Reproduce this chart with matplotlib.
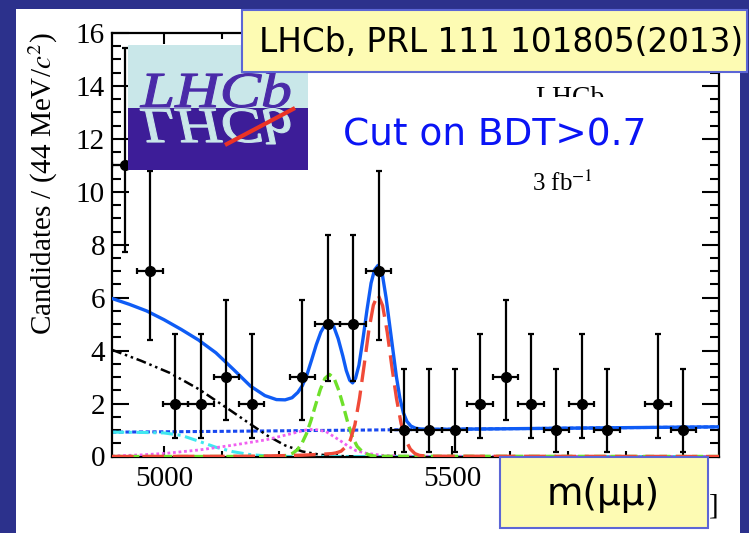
import matplotlib.pyplot as plt
from matplotlib.patches import Rectangle, PathPatch
from matplotlib.textpath import TextPath
from matplotlib.font_manager import FontProperties
from matplotlib.transforms import Affine2D

##############################
# Données
##############################

# centres des bins (44 MeV) et nombre de candidats (bins vides non tracés)
masses = [4932, 4976, 5020, 5064, 5108, 5152, 5240, 5284, 5328, 5372, 5416,
          5460, 5504, 5548, 5592, 5636, 5680, 5724, 5768, 5856, 5900]
candidats = [11, 7, 2, 2, 3, 2, 3, 5, 5, 7, 1, 1, 1, 2, 3, 2, 1, 2, 1, 2, 1]
# bornes des barres d'erreur (Poisson)
bas = [7.73, 4.42, 0.71, 0.71, 1.37, 0.71, 1.37, 2.84, 2.84, 4.42, 0.17,
       0.17, 0.17, 0.71, 1.37, 0.71, 0.17, 0.71, 0.17, 0.71, 0.17]
haut = [15.42, 10.77, 4.64, 4.64, 5.92, 4.64, 5.92, 8.38, 8.38, 10.77, 3.30,
        3.30, 3.30, 4.64, 5.92, 4.64, 3.30, 4.64, 3.30, 4.64, 3.30]
demi_bin = 22

# fit total
fit_x = [4910, 4940, 4970, 5000, 5030, 5060, 5090, 5120, 5150, 5175, 5195,
         5210, 5222, 5232, 5240, 5248, 5256, 5264, 5272, 5280, 5287, 5294,
         5302, 5310, 5316, 5322, 5327, 5332, 5338, 5345, 5352, 5359, 5365,
         5371, 5378, 5385, 5391, 5397, 5403, 5409, 5415, 5421, 5428, 5436,
         5445, 5460, 5500, 5600, 5700, 5800, 5900, 5966]
fit_y = [5.97, 5.75, 5.50, 5.17, 4.80, 4.40, 3.92, 3.30, 2.66, 2.30, 2.15,
         2.14, 2.22, 2.42, 2.68, 3.10, 3.65, 4.22, 4.70, 5.00, 5.07, 4.93,
         4.45, 3.80, 3.25, 2.88, 2.78, 2.95, 3.45, 4.45, 5.55, 6.55, 7.05,
         7.22, 6.95, 6.00, 5.00, 4.00, 3.00, 2.20, 1.65, 1.33, 1.15, 1.07,
         1.04, 1.03, 1.03, 1.05, 1.07, 1.09, 1.11, 1.12]

# bruit de fond combinatoire
comb_x = [4910, 5100, 5300, 5500, 5700, 5966]
comb_y = [0.92, 0.95, 0.99, 1.03, 1.07, 1.12]

# composante noire (tirets-points)
noir_x = [4910, 4960, 5010, 5060, 5110, 5150, 5180, 5210, 5240, 5270, 5300,
          5340, 5966]
noir_y = [4.03, 3.62, 3.16, 2.55, 1.82, 1.22, 0.78, 0.42, 0.19, 0.07, 0.02,
          0.0, 0.0]

# composante cyan
cyan_x = [4910, 4960, 5000, 5030, 5060, 5090, 5120, 5150, 5180, 5220, 5966]
cyan_y = [0.92, 0.91, 0.89, 0.80, 0.58, 0.35, 0.18, 0.07, 0.02, 0.0, 0.0]

# composante magenta (pointillés)
mag_x = [4910, 4960, 5004, 5062, 5120, 5177, 5224, 5245, 5260, 5281, 5304,
         5320, 5333, 5351, 5380, 5420, 5966]
mag_y = [0.02, 0.06, 0.12, 0.25, 0.43, 0.63, 0.88, 1.00, 1.03, 0.94, 0.62,
         0.38, 0.22, 0.12, 0.04, 0.01, 0.0]

# B0 -> mu mu (vert)
vert_x = [4910, 5199, 5207, 5215, 5223, 5231, 5239, 5247, 5255, 5263, 5271,
          5279, 5287, 5295, 5303, 5311, 5319, 5327, 5335, 5343, 5351, 5359,
          5367, 5966]
vert_y = [0.0, 0.0, 0.02, 0.05, 0.12, 0.25, 0.49, 0.86, 1.37, 1.96, 2.53,
          2.95, 3.10, 2.95, 2.50, 1.90, 1.25, 0.72, 0.38, 0.20, 0.10, 0.04,
          0.01, 0.0]

# Bs -> mu mu (rouge)
rouge_x = [4910, 5150, 5200, 5240, 5270, 5291, 5299, 5307, 5315, 5323, 5331,
           5339, 5347, 5355, 5363, 5371, 5379, 5387, 5395, 5403, 5411, 5419,
           5427, 5435, 5443, 5460, 5966]
rouge_y = [0.0, 0.01, 0.03, 0.05, 0.08, 0.11, 0.14, 0.20, 0.36, 0.62, 1.20,
           2.20, 3.45, 4.75, 5.72, 6.12, 5.70, 4.70, 3.40, 2.20, 1.25, 0.62,
           0.28, 0.11, 0.04, 0.01, 0.0]

##############################
# Figure
##############################

W, H = 749, 533

def fx(px):
    return px / W

def fy(py):
    return 1 - py / H

plt.rcParams['mathtext.fontset'] = 'stix'
serif = 'Liberation Serif'

fig = plt.figure(figsize=(W / 100, H / 100), dpi=100, facecolor='#2c318c')

# fond blanc de la diapo
fig.add_artist(Rectangle((fx(16), 0), fx(740) - fx(16), fy(9), transform=fig.transFigure,
                         facecolor='white', edgecolor='none', zorder=-1))

ax = fig.add_axes([fx(112), fy(456.5), fx(719) - fx(112), fy(33) - fy(456.5)])
ax.set_xlim(4910, 5962)
ax.set_ylim(0, 16)

# courbes du fit
ax.plot(comb_x, comb_y, color='#1848f0', lw=2.2, dashes=(1.4, 0.8), zorder=2)
ax.plot(noir_x, noir_y, color='black', lw=1.8, dashes=(4, 1.5, 1, 1.5, 1, 1.5), zorder=2)
ax.plot(cyan_x, cyan_y, color='#40e8f0', lw=2.2, dashes=(4, 1.5, 1, 1.5), zorder=2)
ax.plot(mag_x, mag_y, color='#f060f0', lw=2.0, dashes=(1, 1), zorder=2)
ax.plot(vert_x, vert_y, color='#6ee02a', lw=2.4, dashes=(3.3, 1.6), zorder=3)
ax.plot(rouge_x, rouge_y, color='#f04a38', lw=2.4, dashes=(6.5, 2.6), zorder=3)
ax.plot(fit_x, fit_y, color='#0f5cf5', lw=2.4, zorder=4)

# points de données
yerr = [[c - b for c, b in zip(candidats, bas)], [h - c for c, h in zip(candidats, haut)]]
ax.errorbar(masses, candidats, xerr=demi_bin, yerr=yerr, fmt='o', color='black',
            ms=7, elinewidth=1.6, capsize=2.5, capthick=1.6, zorder=5)

# axes
ax.set_xticks([5000, 5500])
ax.set_xticks(range(5000, 5962, 100), minor=True)
ax.set_yticks(range(0, 17, 2))
ax.set_yticks([i * 0.5 for i in range(33)], minor=True)
for s in ax.spines.values():
    s.set_linewidth(1.6)
ax.tick_params(axis='both', which='both', direction='in', top=True, right=True,
               width=1.5, labelsize=21)
ax.tick_params(axis='y', which='major', length=12.5, pad=5)
ax.tick_params(axis='y', which='minor', length=6.5)
ax.tick_params(axis='x', which='major', length=8, pad=7)
ax.tick_params(axis='x', which='minor', length=4.5)
for lab in ax.get_xticklabels() + ax.get_yticklabels():
    lab.set_fontfamily(serif)

# titres des axes
fig.text(fx(43), fy(184), 'Candidates / (44 MeV/$c^{2}$)', rotation=90, ha='center',
         va='center', fontsize=21, family=serif, zorder=1)
fig.text(fx(718), fy(507), r'$m_{\mu^{+}\mu^{-}}$ [MeV/$c^{2}$]', ha='right', va='center',
         fontsize=21, family=serif, zorder=1)

# étiquettes LHCb
fig.text(fx(570), fy(105), 'LHCb', ha='center', va='baseline', fontsize=20,
         family=serif, zorder=1)
fig.text(fx(562), fy(183), '3 fb$^{-1}$', ha='center', va='center', fontsize=18,
         family=serif, zorder=1)

# texte bleu de la diapo
fig.add_artist(Rectangle((fx(330), fy(168)), fx(665) - fx(330), fy(97) - fy(168),
                         transform=fig.transFigure, facecolor='white', edgecolor='none', zorder=2))
fig.text(fx(495), fy(136), 'Cut on BDT>0.7', ha='center', va='center', fontsize=27,
         color='#0a14f5', family='DejaVu Sans', zorder=3)

# logo LHCb
lg = fig.add_axes([fx(128), fy(170), fx(308) - fx(128), fy(45) - fy(170)], zorder=4)
lg.set_xlim(0, 180)
lg.set_ylim(0, 125)
lg.axis('off')
cyan_logo = '#c9e7e9'
lg.add_patch(Rectangle((0, 62), 180, 63, facecolor=cyan_logo, edgecolor='none'))
lg.add_patch(Rectangle((0, 0), 180, 62, facecolor='#3d1d98', edgecolor='none'))
fp = FontProperties(family=serif, style='italic')
tp = TextPath((0, 0), 'LHCb', size=50, prop=fp)
e = tp.get_extents()
t1 = Affine2D().translate(-e.x0, 0).scale(150 / e.width, 35 / e.y1).translate(12, 63)
lg.add_patch(PathPatch(t1.transform_path(tp), facecolor='#4a2aa8', edgecolor='#4a2aa8', lw=0.8))
t2 = Affine2D().translate(-e.x0, 0).scale(150 / e.width, -35 / e.y1).translate(12, 61)
lg.add_patch(PathPatch(t2.transform_path(tp), facecolor=cyan_logo, edgecolor=cyan_logo, lw=0.8))
lg.plot([97, 167], [25, 62], color='#ea3325', lw=3, solid_capstyle='butt')

# encadrés jaunes
jaune = '#fdfbb3'
bord = '#5c66d6'
fig.add_artist(Rectangle((fx(242), fy(72)), fx(747) - fx(242), fy(10) - fy(72),
                         transform=fig.transFigure, facecolor=jaune, edgecolor=bord,
                         lw=1.5, zorder=5))
fig.text(fx(501), fy(42), 'LHCb, PRL 111 101805(2013)', ha='center', va='center',
         fontsize=23.5, family='DejaVu Sans', zorder=6)
fig.add_artist(Rectangle((fx(500), fy(528)), fx(708) - fx(500), fy(457) - fy(528),
                         transform=fig.transFigure, facecolor=jaune, edgecolor=bord,
                         lw=1.5, zorder=5))
fig.text(fx(603), fy(495), 'm(μμ)', ha='center', va='center', fontsize=27,
         family='DejaVu Sans', zorder=6)

fig.savefig('out.png', dpi=100)
